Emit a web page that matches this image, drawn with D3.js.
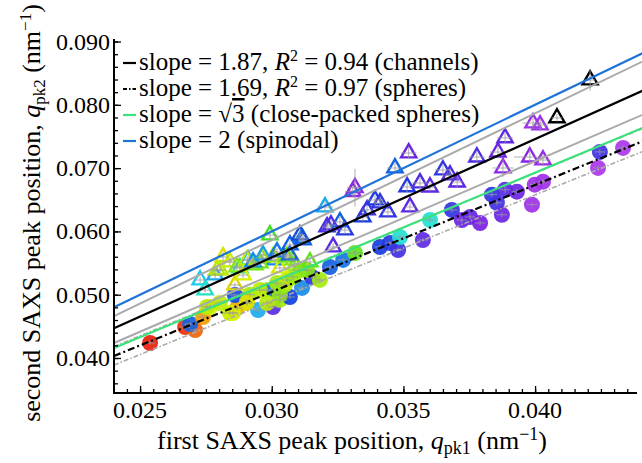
<!DOCTYPE html>
<html>
<head>
<meta charset="utf-8">
<script src="https://cdn.jsdelivr.net/npm/d3@7"></script>
<style>
body { margin: 0; background: #fff; }
svg { display: block; font-family: "Liberation Serif", "Times New Roman", serif; }
</style>
</head>
<body>
<div id="container"></div>
<script>
//channels (open triangles): q_pk1, q_pk2, errors, colour variable (null = black)
var chanQ1 = [0.02728,0.02747,0.02785,0.02815,0.02804,0.02841,0.02860,0.02879,0.02910,0.02936,
              0.02963,0.02993,0.03012,0.03050,0.03069,0.03115,0.03088,0.03145,0.03202,0.03210,
              0.03233,0.03259,0.03278,0.03308,0.03346,0.03362,0.03392,0.03411,0.03441,0.03468,
              0.03520,0.03514,0.03525,0.03563,0.03601,0.03650,0.03677,0.03704,0.03779,0.03859,
              0.03878,0.03886,0.03980,0.04030,0.03992,0.04019,0.03316,0.03225,0.04083,0.04209,
              0.02792,0.02868,0.02906,0.02955,0.03005,0.03031,0.03058,0.03081,0.02891,0.02929,
              0.02967,0.03020,0.03069,0.03119,0.03107];
var chanQ2 = [0.05232,0.05074,0.05311,0.05596,0.05390,0.05517,0.05153,0.05422,0.05549,0.05470,
              0.05580,0.05943,0.05549,0.05627,0.05786,0.05896,0.05470,0.05517,0.06386,0.06070,
              0.05754,0.06149,0.06022,0.06628,0.06228,0.06339,0.06496,0.06449,0.06307,0.07002,
              0.07239,0.06703,0.06386,0.06765,0.06701,0.06970,0.06891,0.06780,0.07175,0.07254,
              0.07002,0.07478,0.07175,0.07128,0.07713,0.07681,0.06691,0.06101,0.07794,0.08392,
              0.05390,0.05438,0.05548,0.05501,0.05596,0.05422,0.05596,0.05548,0.05311,0.05517,
              0.05627,0.05675,0.05627,0.05864,0.05943];
var chanErr1 = [0.0002,0.0002,0.0003,0.0002,0.0002,0.0002,0.0002,0.0003,0.0002,0.0002,
                0.0002,0.0003,0.0002,0.0002,0.0002,0.0003,0.0002,0.0002,0.0003,0.0002,
                0.0002,0.0002,0.0002,0.0003,0.0002,0.0002,0.0003,0.0002,0.0002,0.0003,
                0.0003,0.0002,0.0002,0.0003,0.0002,0.0003,0.0002,0.0002,0.0003,0.0003,
                0.0004,0.0003,0.0006,0.0003,0.0004,0.0003,0.0003,0.0002,0.0002,0.0002,
                0.0002,0.0002,0.0002,0.0002,0.0002,0.0002,0.0002,0.0002,0.0002,0.0002,
                0.0002,0.0002,0.0002,0.0002,0.0002];
var chanErr2 = [0.0005,0.0004,0.0006,0.0008,0.0005,0.0006,0.0004,0.0005,0.0006,0.0005,
                0.0006,0.0008,0.0005,0.0006,0.0006,0.0007,0.0005,0.0005,0.0009,0.0007,
                0.0006,0.0008,0.0006,0.0009,0.0007,0.0007,0.0008,0.0007,0.0007,0.0009,
                0.0009,0.0008,0.0007,0.0008,0.0007,0.0010,0.0008,0.0008,0.0009,0.0010,
                0.0014,0.0009,0.0012,0.0010,0.0010,0.0010,0.0030,0.0008,0.0006,0.0017,
                0.0005,0.0006,0.0005,0.0006,0.0005,0.0005,0.0006,0.0005,0.0005,0.0006,
                0.0006,0.0007,0.0006,0.0007,0.0008];
var chanHue = [0.62,0.57,0.65,0.27,0.33,0.32,0.25,0.55,0.65,0.40,
               0.35,0.45,0.68,0.32,0.72,0.70,0.35,0.42,0.65,0.82,
               0.85,0.72,0.78,0.93,0.76,0.82,0.77,0.80,0.80,0.72,
               0.88,0.78,0.86,0.84,0.86,0.80,0.84,0.86,0.84,0.88,
               0.93,0.86,0.92,0.94,0.95,0.95,0.93,0.85,null,null,
               0.33,0.38,0.33,0.40,0.36,0.30,0.42,0.38,0.30,0.68,
               0.66,0.70,0.72,0.72,0.74];

//spheres (filled circles)
var sphQ1 = [0.02538,0.02671,0.02709,0.02690,0.02739,0.02766,0.02841,0.02868,0.02906,0.02948,
             0.03005,0.02982,0.02917,0.03031,0.03069,0.03115,0.03153,0.03107,0.03050,0.03183,
             0.03221,0.03271,0.03316,0.03411,0.03449,0.03480,0.03487,0.03574,0.03601,0.03684,
             0.03722,0.03753,0.03791,0.03836,0.03855,0.03886,0.03874,0.03931,0.03988,0.03999,
             0.04030,0.04239,0.04246,0.04334,
             0.02860,0.03005,0.02754,0.02803,0.02853,0.02906,0.02955,0.03020,0.03058,0.03081,
             0.03031,0.02982,0.03134];
var sphQ2 = [0.04237,0.04490,0.04442,0.04537,0.04648,0.04806,0.04711,0.04790,0.04869,0.04758,
             0.04806,0.05074,0.05000,0.04917,0.04964,0.05107,0.05280,0.05390,0.05155,0.05234,
             0.05438,0.05549,0.05659,0.05754,0.05817,0.05706,0.05912,0.05864,0.06180,0.06339,
             0.06180,0.06228,0.06133,0.06580,0.06453,0.06659,0.06263,0.06628,0.06422,0.06739,
             0.06786,0.07003,0.07256,0.07319,
             0.04995,0.05074,0.04806,0.04869,0.04711,0.04885,0.05074,0.05185,0.05232,0.05280,
             0.04995,0.04869,0.05390];
var sphErr1 = [0.0002,0.0002,0.0002,0.0002,0.0002,0.0002,0.0003,0.0002,0.0002,0.0002,
               0.0002,0.0002,0.0002,0.0003,0.0002,0.0002,0.0002,0.0003,0.0002,0.0002,
               0.0002,0.0002,0.0003,0.0002,0.0002,0.0002,0.0002,0.0002,0.0002,0.0002,
               0.0002,0.0002,0.0002,0.0002,0.0002,0.0002,0.0002,0.0002,0.0002,0.0002,
               0.0002,0.0002,0.0002,0.0002,
               0.0002,0.0002,0.0002,0.0002,0.0002,0.0002,0.0002,0.0002,0.0002,0.0002,
               0.0002,0.0002,0.0002];
var sphErr2 = [0.0003,0.0004,0.0003,0.0003,0.0004,0.0004,0.0005,0.0004,0.0004,0.0003,
               0.0003,0.0004,0.0004,0.0005,0.0003,0.0004,0.0004,0.0005,0.0004,0.0004,
               0.0003,0.0003,0.0005,0.0003,0.0003,0.0003,0.0004,0.0003,0.0004,0.0004,
               0.0004,0.0004,0.0004,0.0004,0.0004,0.0005,0.0004,0.0004,0.0004,0.0004,
               0.0004,0.0004,0.0005,0.0004,
               0.0003,0.0003,0.0004,0.0004,0.0004,0.0004,0.0004,0.0004,0.0004,0.0004,
               0.0004,0.0004,0.0004];
var sphHue = [0.00,0.02,0.08,0.72,0.15,0.30,0.32,0.18,0.25,0.65,
              0.85,0.33,0.35,0.35,0.75,0.68,0.80,0.40,0.33,0.35,
              0.72,0.70,0.42,0.76,0.78,0.82,0.58,0.86,0.58,0.80,
              0.88,0.87,0.90,0.80,0.82,0.85,0.88,0.88,0.95,0.95,
              0.95,0.97,0.82,0.97,
              0.74,0.70,0.33,0.33,0.30,0.27,0.33,0.35,0.33,0.36,
              0.37,0.33,0.38];

//fitted / reference lines: q2 = slope*q1 + intercept
var fitNames = ["channels", "spheres", "close-packed", "spinodal"];
var fitSlopes = [1.87, 1.69, Math.sqrt(3), 2];
var fitIntercepts = [-0.0002, -0.00026, 0, 0];
//confidence bands of the two fits
var bandSlopes = [2.004, 1.7965, 1.7157, 1.6808];
var bandIntercepts = [-0.00149, -0.00076, 0.00061, -0.00147];

var xTicks = [0.025, 0.030, 0.035, 0.040];
var yTicks = [0.040, 0.050, 0.060, 0.070, 0.080, 0.090];

var width = 642, height = 463;
var pLeft = 114, pRight = 637, pTop = 39, pBottom = 393;

var svg = d3.select("#container").append("svg")
    .attr("width", width).attr("height", height);

var x = d3.scaleLinear().domain([0.02401, 0.04387]).range([pLeft, pRight]);
var y = d3.scaleLinear().domain([0.03447, 0.0904]).range([pBottom, pTop]);

var hue = d3.scaleLinear()
    .domain([0, 0.15, 0.3, 0.45, 0.6, 0.75, 0.9, 1])
    .range(["#e8200c", "#f5a000", "#d8f000", "#40e020", "#20e0f0", "#1040e0", "#7a20e4", "#c040ec"]);
function col(v) { return v === null ? "#000" : hue(v); }

var chan = chanQ1.map(function(d, i) { return {q1: d, q2: chanQ2[i], e1: chanErr1[i], e2: chanErr2[i], c: chanHue[i]}; });
var sph = sphQ1.map(function(d, i) { return {q1: d, q2: sphQ2[i], e1: sphErr1[i], e2: sphErr2[i], c: sphHue[i]}; });

//spheres
svg.append("g").selectAll("circle").data(sph).enter().append("circle")
    .attr("cx", function(d) { return x(d.q1); })
    .attr("cy", function(d) { return y(d.q2); })
    .attr("r", 8)
    .attr("fill", function(d) { return col(d.c); })
    .attr("fill-opacity", 0.92);

//channels
svg.append("g").selectAll("path").data(chan).enter().append("path")
    .attr("d", d3.symbol(d3.symbolTriangle).size(100))
    .attr("transform", function(d) { return "translate(" + x(d.q1) + "," + y(d.q2) + ")"; })
    .attr("fill", "none")
    .attr("stroke", function(d) { return col(d.c); })
    .attr("stroke-width", 2.4);

//error bars
var err = svg.append("g").attr("stroke", "#999").attr("stroke-width", 0.8);
chan.concat(sph).forEach(function(d) {
    err.append("line").attr("x1", x(d.q1)).attr("x2", x(d.q1))
        .attr("y1", y(d.q2 - d.e2)).attr("y2", y(d.q2 + d.e2));
    err.append("line").attr("x1", x(d.q1 - d.e1)).attr("x2", x(d.q1 + d.e1))
        .attr("y1", y(d.q2)).attr("y2", y(d.q2));
});

var xs = [0.02401, 0.0441];

//confidence bands
var bandDash = [null, null, "5,2,1.5,2", "5,2,1.5,2"];
bandSlopes.forEach(function(s, i) {
    svg.append("line")
        .attr("x1", x(xs[0])).attr("x2", x(xs[1]))
        .attr("y1", y(s * xs[0] + bandIntercepts[i]))
        .attr("y2", y(s * xs[1] + bandIntercepts[i]))
        .attr("stroke", "#aaa")
        .attr("stroke-width", bandDash[i] ? 1.6 : 2)
        .attr("stroke-dasharray", bandDash[i]);
});

//fit lines
var fitColors = ["#000", "#000", "#3be27c", "#1f72d8"];
var fitDash = [null, "7,3,2,3", null, null];
fitSlopes.forEach(function(s, i) {
    svg.append("line")
        .attr("x1", x(xs[0])).attr("x2", x(xs[1]))
        .attr("y1", y(s * xs[0] + fitIntercepts[i]))
        .attr("y2", y(s * xs[1] + fitIntercepts[i]))
        .attr("stroke", fitColors[i])
        .attr("stroke-width", 2.2)
        .attr("stroke-dasharray", fitDash[i]);
});

//axes (ticks point inward)
svg.append("g").attr("transform", "translate(" + pLeft + ",0)")
    .call(d3.axisRight(y).tickValues(d3.range(0.036, 0.0905, 0.002)).tickSize(4).tickFormat(""));
svg.append("g").attr("transform", "translate(" + pLeft + ",0)")
    .call(d3.axisRight(y).tickValues(yTicks).tickSize(7).tickFormat(""));
svg.append("g").attr("transform", "translate(0," + pBottom + ")")
    .call(d3.axisTop(x).tickValues(d3.range(0.0245, 0.0438, 0.0005)).tickSize(4).tickFormat(""));
svg.append("g").attr("transform", "translate(0," + pBottom + ")")
    .call(d3.axisTop(x).tickValues(xTicks).tickSize(7).tickFormat(""));
svg.selectAll(".domain").remove();
svg.selectAll(".tick line").attr("stroke", "#000").attr("stroke-width", 1.3);
svg.append("line").attr("x1", pLeft).attr("x2", pLeft).attr("y1", pTop).attr("y2", pBottom + 1)
    .attr("stroke", "#000").attr("stroke-width", 2);
svg.append("line").attr("x1", pLeft - 1).attr("x2", pRight).attr("y1", pBottom).attr("y2", pBottom)
    .attr("stroke", "#000").attr("stroke-width", 2);

//tick labels
svg.append("g").selectAll("text").data(yTicks).enter().append("text")
    .attr("x", pLeft - 4).attr("y", function(d) { return y(d) + 8; })
    .attr("text-anchor", "end").style("font-size", "24px")
    .text(function(d) { return d3.format(".3f")(d); });
svg.append("g").selectAll("text").data(xTicks).enter().append("text")
    .attr("x", function(d) { return x(d); }).attr("y", pBottom + 25)
    .attr("text-anchor", "middle").style("font-size", "24px")
    .text(function(d) { return d3.format(".3f")(d); });

//axis titles
function qLabel(t, pre, sub, fs) {
    t.append("tspan").text(pre);
    t.append("tspan").style("font-style", "italic").text("q");
    t.append("tspan").attr("dy", 5).style("font-size", fs).text(sub);
    t.append("tspan").attr("dy", -5).text(" (nm");
    t.append("tspan").attr("dy", -9).style("font-size", fs).text("\u22121");
    t.append("tspan").attr("dy", 9).text(")");
}
var xt = svg.append("text").attr("x", 352).attr("y", 449)
    .attr("text-anchor", "middle").style("font-size", "26px");
qLabel(xt, "first SAXS peak position, ", "pk1", "18px");
var yt = svg.append("text").attr("transform", "translate(40,213) rotate(-90)")
    .attr("text-anchor", "middle").style("font-size", "26px");
qLabel(yt, "second SAXS peak position, ", "pk2", "17px");

//legend
var legY = [63, 89, 115, 141];
var legend = svg.append("g");
fitSlopes.forEach(function(s, i) {
    legend.append("line").attr("x1", 123).attr("x2", 136)
        .attr("y1", legY[i]).attr("y2", legY[i])
        .attr("stroke", fitColors[i]).attr("stroke-width", 2.2)
        .attr("stroke-dasharray", i === 1 ? "4,2,1.5,2" : null);
    var t = legend.append("text").attr("x", 139).attr("y", legY[i] + 7).style("font-size", "25px");
    if (i < 2) {
        t.append("tspan").text("slope = " + s + ", ");
        t.append("tspan").style("font-style", "italic").text("R");
        t.append("tspan").attr("dy", -9).style("font-size", "16px").text("2");
        t.append("tspan").attr("dy", 9).text(" = " + (i === 0 ? "0.94" : "0.97") + " (" + fitNames[i] + ")");
    } else if (i === 2) {
        t.append("tspan").text("slope = \u221A");
        t.append("tspan").style("text-decoration", "overline").text("3");
        t.append("tspan").text(" (close-packed spheres)");
    } else {
        t.append("tspan").text("slope = 2 (spinodal)");
    }
});
</script>
</body>
</html>
